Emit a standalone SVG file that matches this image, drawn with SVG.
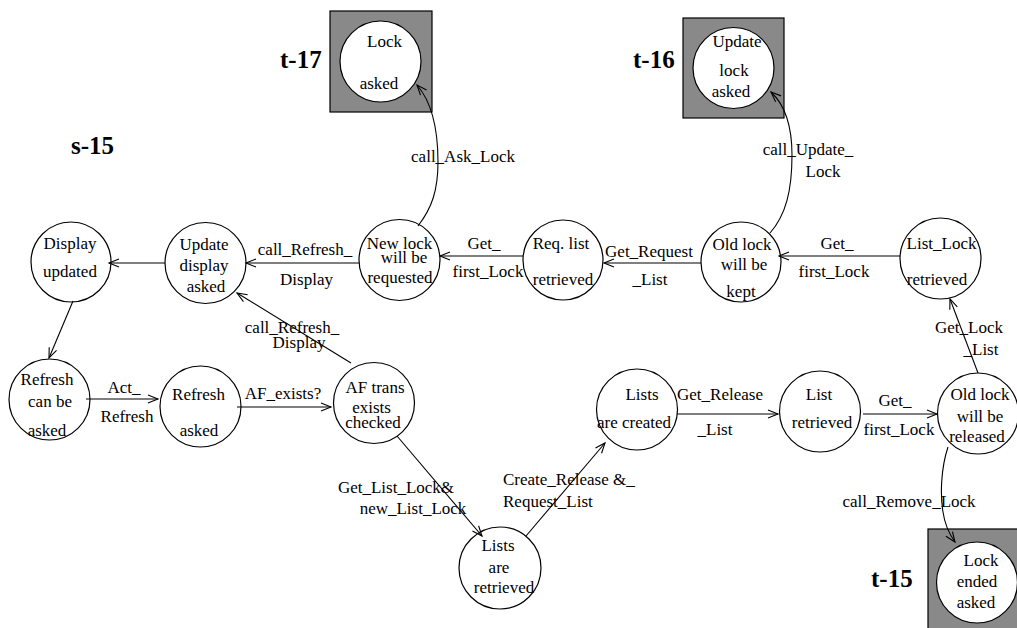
<svg xmlns="http://www.w3.org/2000/svg" width="1017" height="628" viewBox="0 0 1017 628">
<style>
.st{fill:#ffffff;stroke:#000;stroke-width:1.2}
.box{fill:#898989;stroke:#000;stroke-width:1.2}
text{font-family:"Liberation Serif","Times New Roman",serif;font-size:17px;fill:#000}
.c{text-anchor:middle}
.big{font-size:25px;font-weight:bold}
.e{fill:none;stroke:#000;stroke-width:1.1;marker-end:url(#ar)}
</style>
<defs>
<marker id="ar" markerUnits="userSpaceOnUse" markerWidth="14" markerHeight="12" refX="11" refY="5" orient="auto">
<path d="M1,1 L11,5 L1,9" fill="none" stroke="#000" stroke-width="1.1"/>
</marker>
</defs>
<text x="71" y="154" class="big">s-15</text>
<g id="t17">
<rect class="box" x="330" y="11" width="102" height="101"/>
<circle class="st" cx="380.5" cy="61.5" r="40.5"/>
<text x="280" y="68" class="big">t-17</text>
<text x="384.5" y="47" class="c">Lock</text>
<text x="379" y="89" class="c">asked</text>
</g>
<g id="t16">
<rect class="box" x="683" y="18" width="101" height="100"/>
<circle class="st" cx="733.5" cy="68" r="40.5"/>
<text x="633" y="68" class="big">t-16</text>
<text x="737" y="47" class="c">Update</text>
<text x="734" y="76" class="c">lock</text>
<text x="731" y="97" class="c">asked</text>
</g>
<g id="t15">
<rect class="box" x="928" y="529" width="100" height="110"/>
<circle class="st" cx="977" cy="582.5" r="40.5"/>
<text x="871" y="587" class="big">t-15</text>
<text x="981" y="566" class="c">Lock</text>
<text x="977" y="587" class="c">ended</text>
<text x="976" y="608" class="c">asked</text>
</g>
<g id="display_updated">
<circle class="st" cx="71" cy="262" r="40"/>
<text x="70" y="249" class="c">Display</text>
<text x="70" y="277" class="c">updated</text>
</g>
<g id="update_display_asked">
<circle class="st" cx="205.5" cy="263" r="40.5"/>
<text x="204" y="250" class="c">Update</text>
<text x="204" y="271" class="c">display</text>
<text x="206" y="292" class="c">asked</text>
</g>
<g id="new_lock">
<circle class="st" cx="399.5" cy="260" r="40.5"/>
<text x="399.5" y="249" class="c">New lock</text>
<text x="404" y="263" class="c">will be</text>
<text x="400" y="283" class="c">requested</text>
</g>
<g id="req_list">
<circle class="st" cx="563" cy="260" r="40"/>
<text x="561" y="249" class="c">Req. list</text>
<text x="563" y="285" class="c">retrieved</text>
</g>
<g id="old_lock_kept">
<circle class="st" cx="741" cy="262" r="40"/>
<text x="742" y="250" class="c">Old lock</text>
<text x="744" y="270" class="c">will be</text>
<text x="741" y="297" class="c">kept</text>
</g>
<g id="list_lock_retrieved">
<circle class="st" cx="940.5" cy="258.5" r="40.5"/>
<text x="941.5" y="249" class="c">List_Lock</text>
<text x="937" y="285" class="c">retrieved</text>
</g>
<g id="refresh_can_be_asked">
<circle class="st" cx="49.5" cy="399.5" r="40.5"/>
<text x="47" y="385" class="c">Refresh</text>
<text x="50" y="407" class="c">can be</text>
<text x="47" y="436" class="c">asked</text>
</g>
<g id="refresh_asked">
<circle class="st" cx="200.5" cy="406.5" r="40.5"/>
<text x="198.5" y="400" class="c">Refresh</text>
<text x="199" y="436" class="c">asked</text>
</g>
<g id="af_trans">
<circle class="st" cx="374" cy="403" r="40.5"/>
<text x="375" y="393" class="c">AF trans</text>
<text x="371.5" y="413" class="c">exists</text>
<text x="373" y="428" class="c">checked</text>
</g>
<g id="lists_retrieved">
<circle class="st" cx="500" cy="568" r="41"/>
<text x="498" y="551" class="c">Lists</text>
<text x="499" y="573" class="c">are</text>
<text x="504" y="593" class="c">retrieved</text>
</g>
<g id="lists_created">
<circle class="st" cx="637" cy="409.5" r="40.5"/>
<text x="642" y="400" class="c">Lists</text>
<text x="634" y="428" class="c">are created</text>
</g>
<g id="list_retrieved">
<circle class="st" cx="820" cy="411.5" r="40.5"/>
<text x="819" y="400" class="c">List</text>
<text x="822" y="428" class="c">retrieved</text>
</g>
<g id="old_lock_released">
<circle class="st" cx="978" cy="413.5" r="40.5"/>
<text x="980" y="400" class="c">Old lock</text>
<text x="980" y="422" class="c">will be</text>
<text x="977" y="442" class="c">released</text>
</g>
<g id="connectors">
<path class="e" d="M418,226 C432,208 438,190 438,162 C438,125 430,100 417,85"/>
<text x="463" y="162" class="c">call_Ask_Lock</text>
<path class="e" d="M770,233 C786,215 792,190 792,155 C792,125 785,105 771,92"/>
<text x="808" y="155" class="c">call_Update_</text>
<text x="823" y="177" class="c">Lock</text>
<path class="e" d="M523,256 L440,256"/>
<text x="484" y="249" class="c">Get_</text>
<text x="488" y="277" class="c">first_Lock</text>
<path class="e" d="M701,263 L604,263"/>
<text x="649" y="257" class="c">Get_Request</text>
<text x="650" y="285" class="c">_List</text>
<path class="e" d="M900,256 L779,256"/>
<text x="837" y="249" class="c">Get_</text>
<text x="834" y="277" class="c">first_Lock</text>
<path class="e" d="M359,263 L246,263"/>
<text x="305" y="255" class="c">call_Refresh_</text>
<text x="306.5" y="285" class="c">Display</text>
<path class="e" d="M165,263 L109,263"/>
<path class="e" d="M73,301 L49,358"/>
<path class="e" d="M86,399 L158,399"/>
<text x="124" y="393" class="c">Act_</text>
<text x="127" y="422" class="c">Refresh</text>
<path class="e" d="M237,407 L331,407"/>
<text x="283" y="399" class="c">AF_exists?</text>
<path class="e" d="M351,363 L237,293"/>
<text x="292" y="333" class="c">call_Refresh_</text>
<text x="299" y="348" class="c">Display</text>
<path class="e" d="M397,436 L482,536"/>
<text x="396" y="493" class="c">Get_List_Lock&amp;</text>
<text x="413" y="514" class="c">new_List_Lock</text>
<path class="e" d="M526,536 L605,443"/>
<text x="503" y="485">Create_Release &amp;_</text>
<text x="503" y="507">Request_List</text>
<path class="e" d="M677,414 L778,414"/>
<text x="720" y="400" class="c">Get_Release</text>
<text x="715" y="435" class="c">_List</text>
<path class="e" d="M863,414 L937,414"/>
<text x="895" y="406" class="c">Get_</text>
<text x="899" y="435" class="c">first_Lock</text>
<path class="e" d="M978,373 L950,299"/>
<text x="969" y="333" class="c">Get_Lock</text>
<text x="981" y="355" class="c">_List</text>
<path class="e" d="M948,447 C941,468 940,495 943,512 C945,526 950,535 955,542"/>
<text x="909" y="507" class="c">call_Remove_Lock</text>
</g>
</svg>
